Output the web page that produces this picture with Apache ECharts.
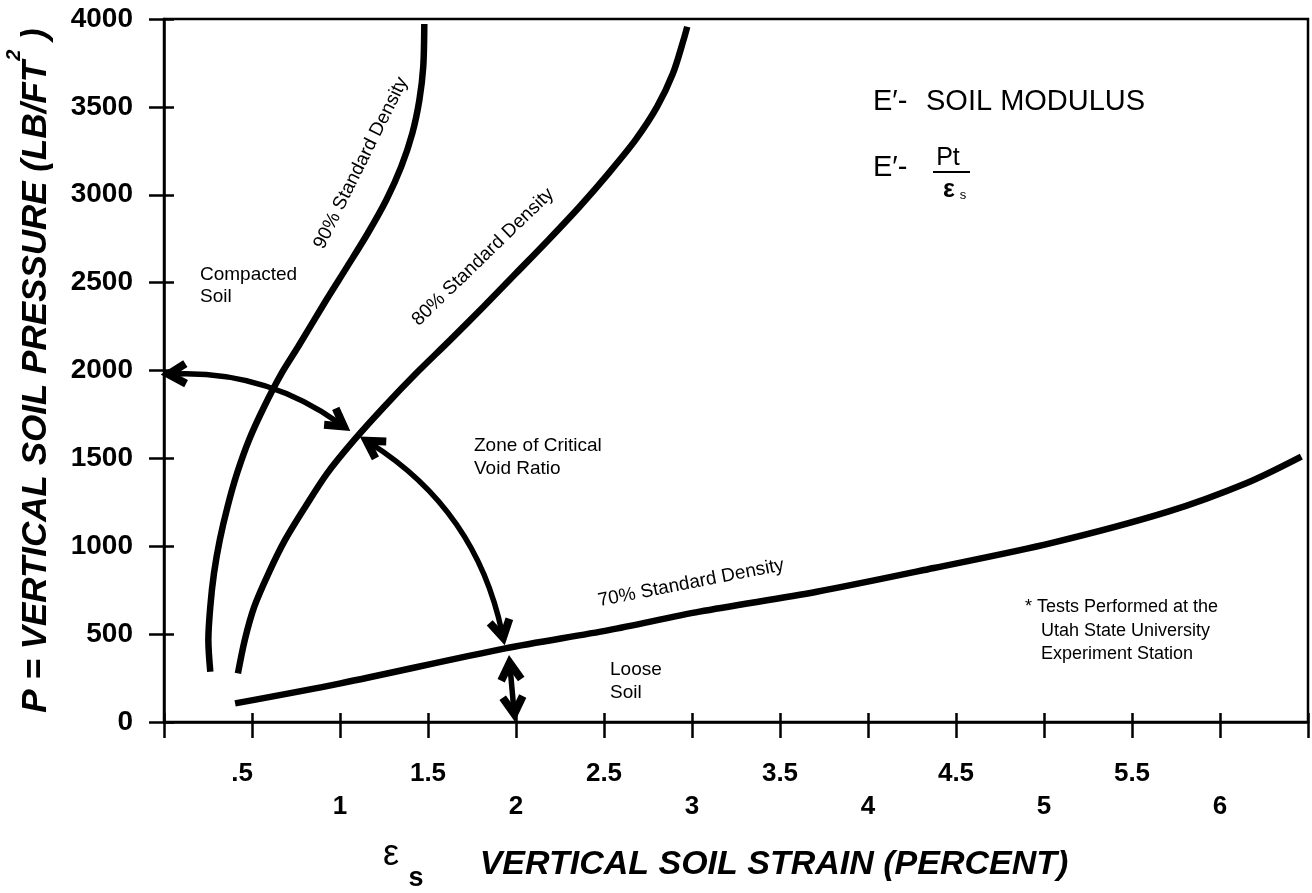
<!DOCTYPE html>
<html>
<head>
<meta charset="utf-8">
<style>
  html, body { margin: 0; padding: 0; background: #fff; }
  #chart { width: 1312px; height: 893px; }
</style>
<script src="https://cdn.jsdelivr.net/npm/echarts@6.0.0/dist/echarts.min.js"></script>
</head>
<body>
<div id="chart"></div>
<script>
// strain in percent, pressure in lb/ft2
const strain90 = [0.263, 0.252, 0.263, 0.284, 0.317, 0.361, 0.415, 0.483, 0.569, 0.668, 0.762, 0.922, 1.041, 1.158, 1.263, 1.348, 1.411, 1.451, 1.473, 1.479];
const pressure90 = [286, 467, 656, 846, 1036, 1225, 1415, 1605, 1794, 1984, 2135, 2401, 2591, 2781, 2970, 3160, 3350, 3539, 3729, 3972];

const strain80 = [0.420, 0.459, 0.513, 0.594, 0.688, 0.803, 0.927, 1.081, 1.251, 1.433, 1.627, 1.815, 2.000, 2.184, 2.361, 2.526, 2.679, 2.802, 2.892, 2.952, 2.973];
const pressure80 = [277, 467, 656, 846, 1036, 1225, 1415, 1605, 1794, 1984, 2174, 2363, 2553, 2743, 2932, 3122, 3312, 3501, 3691, 3881, 3956];

const strain70 = [0.404, 1.003, 1.939, 2.527, 3.043, 3.709, 4.374, 5.040, 5.705, 6.152, 6.462];
const pressure70 = [106, 220, 419, 523, 628, 741, 876, 1018, 1197, 1360, 1510];

// double-headed arrows: [start, end] in (strain, pressure)
const arrowCompacted = [[0.058, 1980], [0.996, 1700]];
const arrowCritical = [[1.177, 1583], [1.920, 512]];
const arrowLoose = [[1.967, 305], [1.987, 78]];

const strainTicks = { min: 0, max: 6.5, step: 0.5 };
const pressureTicks = { min: 0, max: 4000, step: 500 };

const font = '"Liberation Sans", Arial, Helvetica, sans-serif';
const black = '#000';

function pairs(xs, ys) {
  return xs.map((x, i) => [x, ys[i]]);
}

function xLabel(v) {
  if (v === strainTicks.min || v === strainTicks.max) return '';
  if (v % 1 === 0) return '\n' + v;
  if (v < 1) return '{lead|' + String(v).replace(/^0/, '') + '}';
  return String(v);
}

const arrowHead = 'path://M11,0 L22,19 L16.4,22.3 L11,13 L5.6,22.3 L0,19 Z';
const arrowBend = [0.17, 0.21, 0];

function curve(name, xs, ys) {
  return {
    name: name,
    type: 'line',
    data: pairs(xs, ys),
    showSymbol: false,
    symbol: 'none',
    smooth: 0.3,
    clip: false,
    silent: true,
    lineStyle: { color: black, width: 6.5 }
  };
}

function text(x, y, str, size) {
  return {
    type: 'text', x: x, y: y,
    style: {
      text: str, fill: black, fontFamily: font, fontSize: size,
      verticalAlign: 'middle', textVerticalAlign: 'middle'
    }
  };
}

function note(x, y, str, lineHeight) {
  return {
    type: 'text', x: x, y: y,
    style: {
      text: str, fill: black, fontFamily: font, fontSize: 19, lineHeight: lineHeight,
      verticalAlign: 'top', textVerticalAlign: 'top'
    }
  };
}

function centered(x, y, str, size, rot, weight) {
  return {
    type: 'text', x: x, y: y, rotation: (rot || 0) * Math.PI / 180,
    style: {
      text: str, fill: black, fontFamily: font, fontSize: size, fontWeight: weight || 'normal',
      align: 'center', verticalAlign: 'middle', textAlign: 'center', textVerticalAlign: 'middle'
    }
  };
}

const tickStyle = { color: black, width: 2.5 };

const chart = echarts.init(document.getElementById('chart'));

const option = {
  animation: false,
  backgroundColor: '#fff',
  grid: {
    left: 164, right: 4, top: 19, bottom: 171,
    containLabel: false,
    outerBoundsMode: 'none',
    show: true, borderColor: black, borderWidth: 2.5
  },
  xAxis: [{
    type: 'value',
    min: strainTicks.min, max: strainTicks.max, interval: strainTicks.step,
    position: 'bottom',
    axisLine: { show: true, lineStyle: tickStyle },
    axisTick: { show: true, inside: false, length: 16, lineStyle: tickStyle },
    splitLine: { show: false },
    axisLabel: {
      margin: 35,
      color: black, fontFamily: font, fontSize: 26, fontWeight: 'bold', lineHeight: 33,
      formatter: xLabel,
      rich: {
        lead: { color: black, fontFamily: font, fontSize: 26, fontWeight: 'bold', lineHeight: 33, padding: [0, 20, 0, 0] }
      }
    },
    name: 'VERTICAL SOIL STRAIN (PERCENT)',
    nameLocation: 'middle',
    nameGap: 126,
    nameTextStyle: {
      color: black, fontFamily: font, fontSize: 34, fontWeight: 'bold', fontStyle: 'italic',
      padding: [0, 0, 0, 76]
    }
  }, {
    type: 'value',
    min: strainTicks.min, max: strainTicks.max, interval: strainTicks.step,
    position: 'bottom',
    axisLine: { show: false },
    axisTick: { show: true, inside: true, length: 9, lineStyle: tickStyle },
    axisLabel: { show: false },
    splitLine: { show: false }
  }],
  yAxis: [{
    type: 'value',
    min: pressureTicks.min, max: pressureTicks.max, interval: pressureTicks.step,
    position: 'left',
    axisLine: { show: true, lineStyle: tickStyle },
    axisTick: { show: true, inside: false, length: 15, lineStyle: tickStyle },
    splitLine: { show: false },
    axisLabel: {
      margin: 31,
      color: black, fontFamily: font, fontSize: 28, fontWeight: 'bold',
      formatter: v => String(v)
    },
    name: '{t|P = VERTICAL SOIL PRESSURE (LB/FT}{sup|2}{t| )}',
    nameLocation: 'middle',
    nameRotate: 90,
    nameGap: 110,
    nameTextStyle: {
      rich: {
        t: { color: black, fontFamily: font, fontSize: 35, fontWeight: 'bold', fontStyle: 'italic', lineHeight: 50, verticalAlign: 'bottom' },
        sup: { color: black, fontFamily: font, fontSize: 20, fontWeight: 'bold', fontStyle: 'italic', lineHeight: 20, verticalAlign: 'top' }
      }
    }
  }, {
    type: 'value',
    min: pressureTicks.min, max: pressureTicks.max, interval: pressureTicks.step,
    position: 'left',
    axisLine: { show: false },
    axisTick: { show: true, inside: true, length: 10, lineStyle: tickStyle },
    axisLabel: { show: false },
    splitLine: { show: false }
  }],
  series: [
    curve('90% Standard Density', strain90, pressure90),
    curve('80% Standard Density', strain80, pressure80),
    curve('70% Standard Density', strain70, pressure70),
    {
      name: 'arrows',
      type: 'lines',
      coordinateSystem: 'cartesian2d',
      xAxisIndex: 0,
      yAxisIndex: 0,
      silent: true,
      symbol: [arrowHead, arrowHead],
      symbolSize: 27,
      lineStyle: { color: black, width: 5.5, opacity: 1 },
      itemStyle: { color: black },
      data: [arrowCompacted, arrowCritical, arrowLoose].map((a, i) => ({
        coords: a,
        lineStyle: { curveness: arrowBend[i], color: black, width: 5.5, opacity: 1 }
      }))
    }
  ],
  graphic: [
    // curve labels
    centered(361, 163, '90% Standard Density', 19, 63.5),
    centered(483, 257, '80% Standard Density', 19, 44),
    centered(691, 583, '70% Standard Density', 19, 11),
    // zone notes
    note(200, 264, 'Compacted\nSoil', 22),
    note(474, 434, 'Zone of Critical\nVoid Ratio', 23),
    note(610, 658, 'Loose\nSoil', 23),
    text(1025, 607, '* Tests Performed at the', 18),
    text(1041, 631, 'Utah State University', 18),
    text(1041, 654, 'Experiment Station', 18),
    // modulus definition
    text(873, 102, 'E\u2032-', 29),
    text(926, 102, 'SOIL MODULUS', 29),
    text(873, 168, 'E\u2032-', 29),
    centered(948, 158, 'Pt', 25),
    { type: 'line', shape: { x1: 933, y1: 172, x2: 970, y2: 172 }, style: { stroke: black, lineWidth: 2 } },
    centered(949, 190, '\u03b5', 25, 0, 'bold'),
    centered(963, 195, 's', 13),
    // strain symbol in front of the x axis title
    centered(391, 855, '\u03b5', 36),
    centered(416, 879, 's', 27, 0, 'bold')
  ]
};

chart.setOption(option);
</script>
</body>
</html>
